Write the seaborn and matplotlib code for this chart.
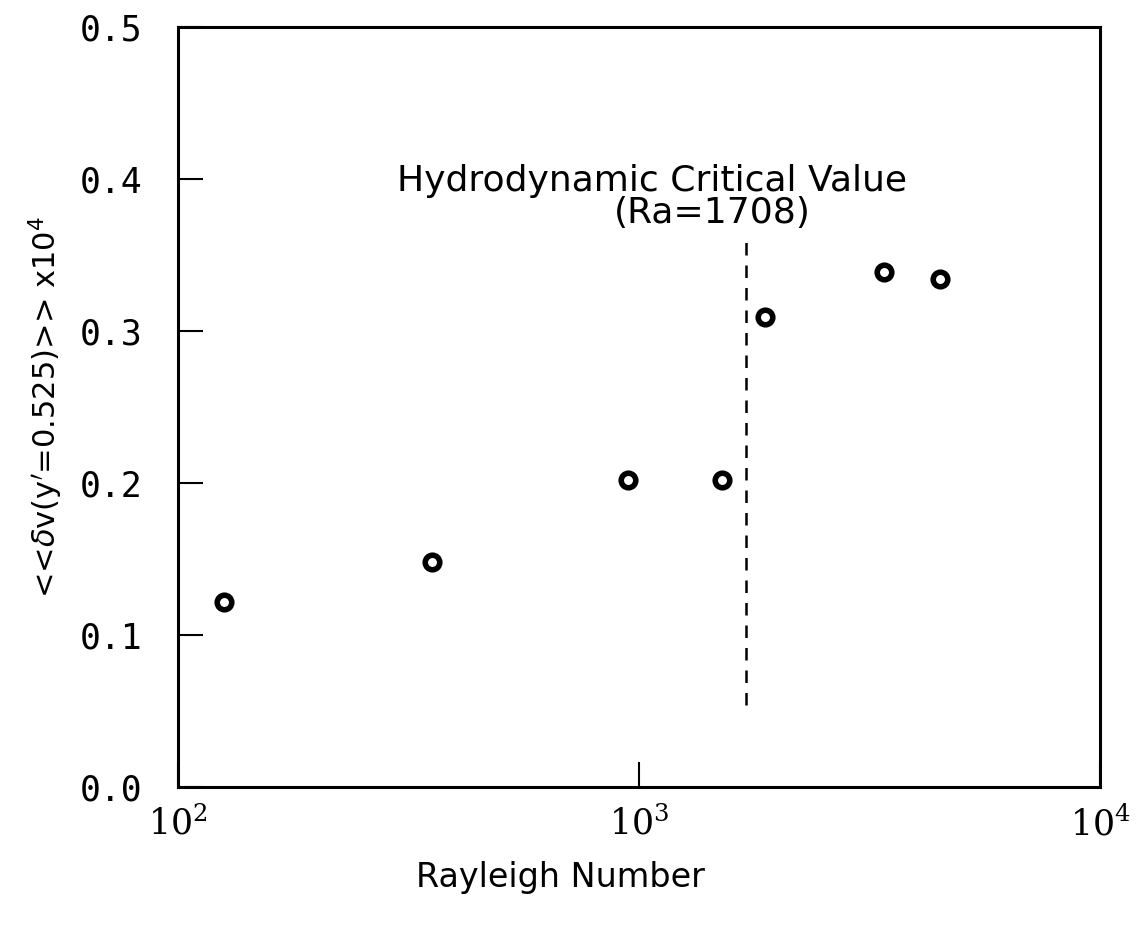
import matplotlib
matplotlib.use("Agg")
import matplotlib.pyplot as plt
import seaborn as sns
import pandas as pd

# Measured fluctuation amplitude vs Rayleigh number
rayleigh = [126, 356, 947, 1514, 1876, 3400, 4500]
dv_rms = [0.122, 0.148, 0.202, 0.202, 0.309, 0.339, 0.334]

ra_critical = 1708
crit_line_span = [0.054, 0.36]

x_ticks = [100, 1000, 10000]
x_tick_labels = [r"$\mathregular{10^{2}}$", r"$\mathregular{10^{3}}$", r"$\mathregular{10^{4}}$"]
y_ticks = [0.0, 0.1, 0.2, 0.3, 0.4, 0.5]
y_tick_labels = ["0.0", "0.1", "0.2", "0.3", "0.4", "0.5"]

sns.set_style("white")
plt.rcParams["font.family"] = ["DejaVu Sans"]
plt.rcParams["text.color"] = "black"
plt.rcParams["axes.labelcolor"] = "black"
plt.rcParams["xtick.color"] = "black"
plt.rcParams["ytick.color"] = "black"

fig = plt.figure(figsize=(11.42, 9.27), dpi=100)
ax = fig.add_axes([178 / 1142, 1 - 787 / 927, (1100 - 178) / 1142, (787 - 27) / 927])

df = pd.DataFrame({"Ra": rayleigh, "dv": dv_rms})
sns.scatterplot(data=df, x="Ra", y="dv", ax=ax, marker="o", s=110,
                facecolor="white", edgecolor="black", linewidth=4.0, zorder=3)

ax.plot([ra_critical, ra_critical], crit_line_span, color="black",
        linestyle=(0, (5, 4)), linewidth=1.8)

ax.set_xscale("log")
ax.set_xlim(100, 10000)
ax.set_ylim(0.0, 0.5)

ax.set_xticks(x_ticks)
ax.set_xticklabels(x_tick_labels, fontsize=25, family="DejaVu Serif")
ax.xaxis.set_minor_locator(matplotlib.ticker.NullLocator())
ax.set_yticks(y_ticks)
ax.set_yticklabels(y_tick_labels, fontsize=25, family="DejaVu Sans Mono")

ax.tick_params(axis="both", direction="in", length=18, width=1.5,
               left=True, bottom=True, top=False, right=False)
ax.tick_params(axis="x", pad=14)
ax.tick_params(axis="y", pad=26)

for side in ["left", "right", "top", "bottom"]:
    ax.spines[side].set_visible(True)
    ax.spines[side].set_color("black")
    ax.spines[side].set_linewidth(2.2)

ax.set_xlabel("")
ax.set_ylabel(r"<<$\delta$v(y$^{\prime}$=0.525)>> x10$^{4}$", fontsize=22, labelpad=10)

fig.text(560 / 1142, 1 - 878 / 927, "Rayleigh Number", fontsize=24,
         ha="center", va="center")

# annotation for the hydrodynamic critical Rayleigh number
fig.text(397 / 1142, 1 - 181 / 927, "Hydrodynamic Critical Value", fontsize=26,
         va="center", ha="left")
fig.text(614 / 1142, 1 - 213 / 927, "(Ra=1708)", fontsize=26,
         va="center", ha="left")

fig.savefig("out.png", dpi=100, facecolor="white")
